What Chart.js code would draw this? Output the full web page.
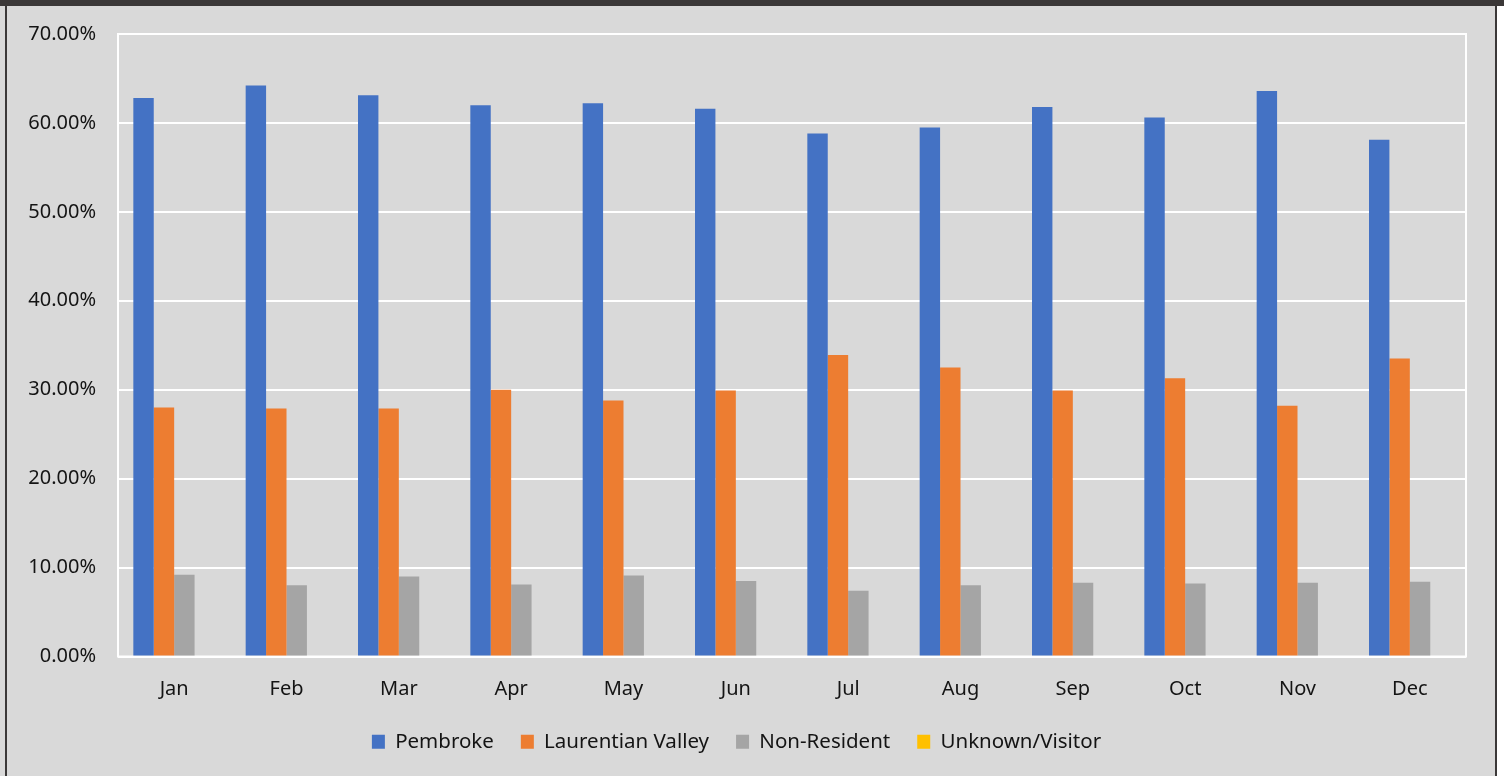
<!DOCTYPE html>
<html>
<head>
<meta charset="utf-8">
<title>Monthly share by residence</title>
<script src="https://cdn.jsdelivr.net/npm/chart.js@4.4.1/dist/chart.umd.min.js"></script>
<style>
  html, body { margin: 0; padding: 0; background: #ffffff; overflow: hidden; }
  .panel { position: absolute; left: 0; top: 0; width: 1497px; height: 776px; background: #d9d9d9; }
  .edge { position: absolute; background: #3b3838; }
  #wrap { position: absolute; left: 7px; top: 6px; width: 1488px; height: 770px; }
</style>
</head>
<body>
<div class="panel"></div>
<div class="edge" style="left:0;top:0;width:1504px;height:6px"></div>
<div class="edge" style="left:5px;top:0;width:2px;height:776px"></div>
<div class="edge" style="left:1495px;top:0;width:2px;height:776px"></div>
<div id="wrap"><canvas id="chart" width="1488" height="770"></canvas></div>

<script>
// Share of visits per month, in percent.
const MONTHS = ["Jan", "Feb", "Mar", "Apr", "May", "Jun", "Jul", "Aug", "Sep", "Oct", "Nov", "Dec"];

const PEMBROKE     = [62.8, 64.2, 63.1, 62.0, 62.2, 61.6, 58.8, 59.5, 61.8, 60.6, 63.6, 58.1];
const LAURENTIAN   = [28.0, 27.9, 27.9, 30.0, 28.8, 29.9, 33.9, 32.5, 29.9, 31.3, 28.2, 33.5];
const NON_RESIDENT = [9.2, 8.0, 9.0, 8.1, 9.1, 8.5, 7.4, 8.0, 8.3, 8.2, 8.3, 8.4];
const UNKNOWN      = [0, 0, 0, 0, 0, 0, 0, 0, 0, 0, 0, 0];

const Y_MIN = 0;
const Y_MAX = 70;
const Y_STEP = 10;

const TEXT = "#141414";
const FONT = { family: "'Noto Sans', 'Open Sans', sans-serif", size: 20 };
const LEGEND_FONT = { family: "'Noto Sans', 'Open Sans', sans-serif", size: 20.5 };

// White outline round the plot area (Excel-style plot border).
const plotFrame = {
  id: "plotFrame",
  beforeDatasetsDraw(chart) {
    const a = chart.chartArea;
    const ctx = chart.ctx;
    ctx.save();
    ctx.strokeStyle = "#ffffff";
    ctx.lineWidth = 2;
    ctx.strokeRect(a.left, a.top, a.right - a.left, a.bottom - a.top);
    ctx.restore();
  },
};

function series(label, data, color) {
  return {
    label,
    data,
    backgroundColor: color,
    borderWidth: 0,
    barPercentage: 1.0,
    categoryPercentage: 0.727,
  };
}

new Chart(document.getElementById("chart"), {
  type: "bar",
  data: {
    labels: MONTHS,
    datasets: [
      series("Pembroke", PEMBROKE, "#4472c4"),
      series("Laurentian Valley", LAURENTIAN, "#ed7d31"),
      series("Non-Resident", NON_RESIDENT, "#a5a5a5"),
      series("Unknown/Visitor", UNKNOWN, "#ffc000"),
    ],
  },
  options: {
    responsive: false,
    animation: false,
    layout: { padding: { top: 28, right: 29, left: 0, bottom: 14 } },
    plugins: {
      tooltip: { enabled: false },
      legend: {
        position: "bottom",
        labels: {
          color: TEXT,
          font: LEGEND_FONT,
          boxWidth: 13,
          boxHeight: 14,
          padding: 27,
        },
      },
    },
    scales: {
      x: {
        grid: { display: false, drawTicks: false },
        border: { display: false },
        ticks: { color: TEXT, font: FONT, padding: 21, maxRotation: 0 },
        afterFit: s => { s.height = 48; },
      },
      y: {
        min: Y_MIN,
        max: Y_MAX,
        ticks: {
          stepSize: Y_STEP,
          color: TEXT,
          font: FONT,
          padding: 22,
          callback: v => v.toFixed(2) + "%",
        },
        grid: { color: "#ffffff", lineWidth: 2, drawTicks: false },
        border: { display: false },
        // fixed gutter; tick padding shouldn't push the plot top down
        afterFit: s => {
          s.width = 111;
          s.paddingTop = 12;
          s.paddingBottom = 12;
        },
      },
    },
  },
  plugins: [plotFrame],
});
</script>
</body>
</html>
